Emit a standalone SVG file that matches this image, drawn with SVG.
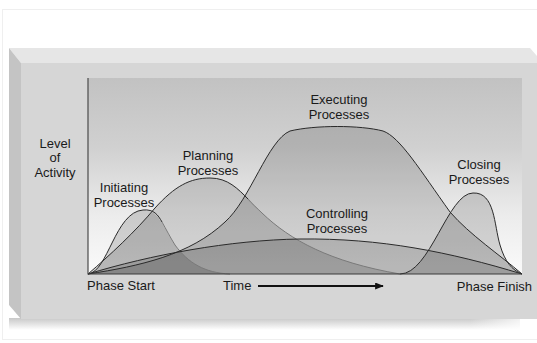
<svg xmlns="http://www.w3.org/2000/svg" width="537" height="343" viewBox="0 0 537 343">
<defs>
<linearGradient id="plotBg" x1="0" y1="0" x2="0" y2="1">
<stop offset="0" stop-color="#c2c2c2"/>
<stop offset="0.35" stop-color="#d0d0d0"/>
<stop offset="0.7" stop-color="#ececec"/>
<stop offset="1" stop-color="#fafafa"/>
</linearGradient>
<linearGradient id="shadow" x1="0" y1="0" x2="0" y2="1">
<stop offset="0" stop-color="#c8c8c8"/>
<stop offset="1" stop-color="#ffffff"/>
</linearGradient>
<linearGradient id="shadowFade" x1="0" y1="0" x2="1" y2="0">
<stop offset="0" stop-color="#ffffff" stop-opacity="0"/>
<stop offset="1" stop-color="#ffffff" stop-opacity="1"/>
</linearGradient>
<marker id="arrow" viewBox="0 0 10 8" refX="9" refY="4" markerWidth="9" markerHeight="7" markerUnits="userSpaceOnUse" orient="auto">
<path d="M0,0 L10,4 L0,8 Z" fill="#111"/>
</marker>
</defs>
<style>
text{font-family:"Liberation Sans",Arial,sans-serif;font-size:13px;fill:#1a1a1a;}
.c{text-anchor:middle;}
.area{fill:#000;fill-opacity:0.14;stroke:none;}
.dk{fill:none;stroke:#2a2a2a;stroke-width:1;}
.lt{fill:none;stroke:#7a7a7a;stroke-width:1;}
</style>
<rect x="0" y="0" width="537" height="343" fill="#ffffff"/>
<rect x="2.5" y="9.5" width="540" height="330" fill="none" stroke="#efefef"/>
<rect x="9" y="318" width="511" height="12" fill="url(#shadow)"/>
<rect x="470" y="316" width="67" height="16" fill="url(#shadowFade)"/>
<polygon points="9,48 530,48 537,56 537,63 21,63" fill="#e6e6e6"/>
<polygon points="9,48 21,63 21,319 9,305" fill="#c4c4c4"/>
<rect x="21" y="63" width="516" height="256" fill="#d6d6d6"/>
<rect x="88" y="78" width="434" height="196" fill="url(#plotBg)"/>
<g id="areas">
<path class="area" d="M88,274 C108,272 115,212 143,210 C160,210 163,228 175,245 C188,263 205,273 230,274 Z"/>
<path class="area" d="M88,274 C110,255 135,232 155,208 C175,186 190,178 210,178 C232,178 245,195 262,213 C290,240 330,262 400,274 Z"/>
<path class="area" d="M88,274 C140,266 190,255 225,222 C250,200 268,140 290,131 C315,125 360,125 383,131 C400,137 420,170 450,212 C470,235 500,255 522,274 Z"/>
<path class="area" d="M88,274 C150,255 230,240 300,239 C380,238 450,252 522,274 Z"/>
<path class="area" d="M400,274 C430,274 448,193 473,193 C495,192 494,225 500,245 C505,262 512,270 522,274 Z"/>
</g>
<g id="initiating">
<path class="dk" d="M88,274 C108,272 115,212 143,210 C154,209 158,215 162,222"/>
<path class="lt" d="M162,222 C166,229 170,237 175,245 C188,263 205,273 230,274"/>
<text class="c" x="124" y="192">Initiating</text>
<text class="c" x="124" y="206.5">Processes</text>
</g>
<g id="planning">
<path class="dk" d="M88,274 C110,255 135,232 155,208 C175,186 190,178 210,178 C228,178 238,189 248,199"/>
<path class="lt" d="M248,199 C252,204 257,208 262,213 C290,240 330,262 400,274"/>
<text class="c" x="208" y="160">Planning</text>
<text class="c" x="208" y="174.5">Processes</text>
</g>
<g id="executing">
<path class="dk" d="M88,274 C140,266 190,255 225,222 C250,200 268,140 290,131 C315,125 360,125 383,131 C400,137 420,170 450,212 C470,235 500,255 522,274"/>
<text class="c" x="339" y="104">Executing</text>
<text class="c" x="339" y="118.5">Processes</text>
</g>
<g id="controlling">
<path class="dk" d="M88,274 C150,255 230,240 300,239 C380,238 450,252 522,274" stroke-width="1.3"/>
<text class="c" x="337" y="218">Controlling</text>
<text class="c" x="337" y="232.5">Processes</text>
</g>
<g id="closing">
<path class="dk" d="M400,274 C430,274 448,193 473,193 C495,192 494,225 500,245 C505,262 512,270 522,274"/>
<text class="c" x="479" y="169">Closing</text>
<text class="c" x="479" y="183.5">Processes</text>
</g>
<g id="axes">
<line x1="88" y1="78" x2="88" y2="274.5" stroke="#4a4a4a" stroke-width="1.2"/>
<line x1="88" y1="274" x2="522" y2="274" stroke="#3a3a3a" stroke-width="1.2"/>
<text class="c" x="55" y="147.5">Level</text>
<text class="c" x="55" y="162">of</text>
<text class="c" x="55" y="176.5">Activity</text>
<text x="87" y="290">Phase Start</text>
<text x="223" y="290">Time</text>
<text x="532" y="291" text-anchor="end">Phase Finish</text>
</g>
<g id="connectors">
<line x1="258" y1="286" x2="383" y2="286" stroke="#111" stroke-width="1.8" marker-end="url(#arrow)"/>
</g>
</svg>
